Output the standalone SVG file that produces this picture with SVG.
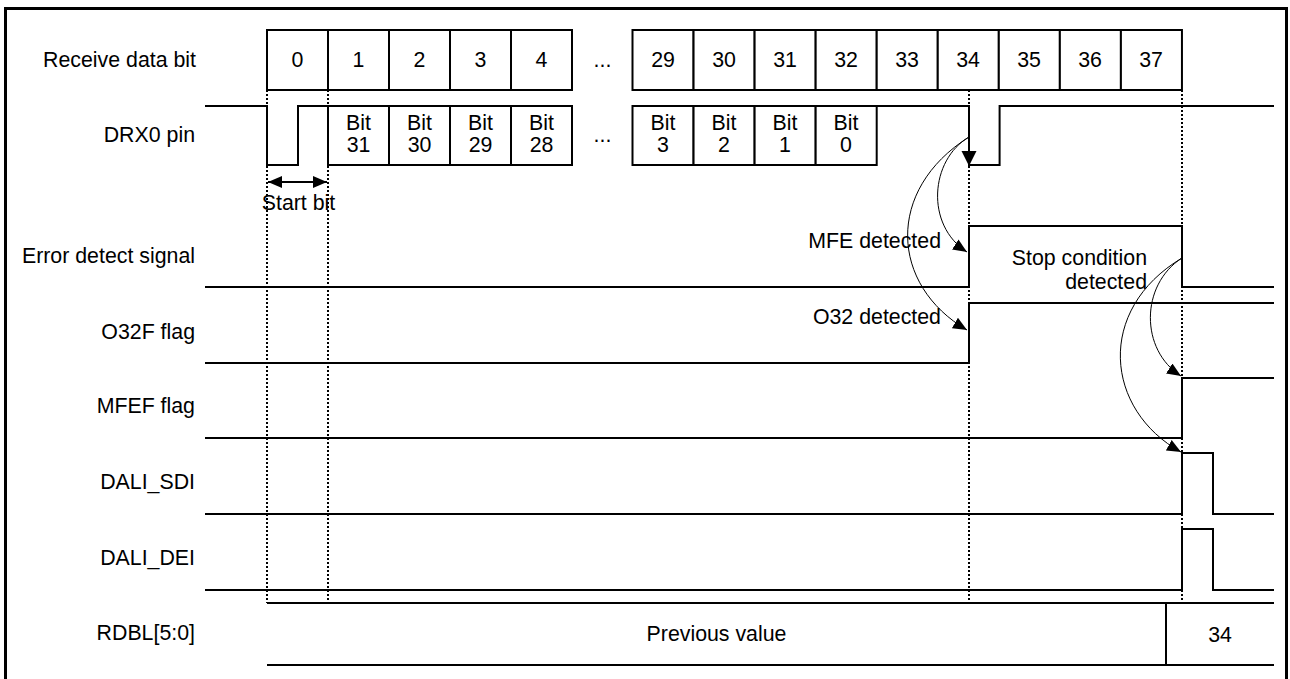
<svg xmlns="http://www.w3.org/2000/svg" width="1290" height="679" viewBox="0 0 1290 679">
<style>
text{font-family:"Liberation Sans",Arial,sans-serif;font-size:21.33px;fill:#000}
.lbl{text-anchor:end}
.c{text-anchor:middle}
.sig{fill:none;stroke:#000;stroke-width:2}
.box{fill:#fff;stroke:#000;stroke-width:2}
.dot{fill:none;stroke:#000;stroke-width:2;stroke-dasharray:2 2}
.cur{fill:none;stroke:#000;stroke-width:1}
</style>
<defs>
<marker id="ah" markerUnits="userSpaceOnUse" markerWidth="15" markerHeight="13" refX="14" refY="6" orient="auto-start-reverse"><path d="M0,0 L14,6 L0,12 z" fill="#000"/></marker>
<marker id="ahb" markerUnits="userSpaceOnUse" markerWidth="16" markerHeight="16" refX="15" refY="7.5" orient="auto"><path d="M0,0 L15,7.5 L0,15 z" fill="#000"/></marker>
</defs>
<rect x="5.5" y="8.5" width="1281" height="700" fill="#fff" stroke="#000" stroke-width="3"/>

<g id="guides">
<line class="dot" x1="267" y1="90" x2="267" y2="603"/>
<line class="dot" x1="328" y1="90" x2="328" y2="603"/>
<line class="dot" x1="969" y1="90" x2="969" y2="603"/>
<line class="dot" x1="1182" y1="90" x2="1182" y2="603"/>
</g>

<g id="receive-data-bit">
<text class="lbl" x="196" y="67">Receive data bit</text>
<rect class="box" x="267" y="30" width="61" height="60"/>
<rect class="box" x="328" y="30" width="61" height="60"/>
<rect class="box" x="389" y="30" width="61" height="60"/>
<rect class="box" x="450" y="30" width="61" height="60"/>
<rect class="box" x="511" y="30" width="61" height="60"/>
<text class="c" x="297.5" y="67">0</text>
<text class="c" x="358.5" y="67">1</text>
<text class="c" x="419.5" y="67">2</text>
<text class="c" x="480.5" y="67">3</text>
<text class="c" x="541.5" y="67">4</text>
<text class="c" x="602.5" y="67">...</text>
<rect class="box" x="632.5" y="30" width="61.05" height="60"/>
<rect class="box" x="693.55" y="30" width="61.05" height="60"/>
<rect class="box" x="754.6" y="30" width="61.05" height="60"/>
<rect class="box" x="815.65" y="30" width="61.05" height="60"/>
<rect class="box" x="876.7" y="30" width="61.05" height="60"/>
<rect class="box" x="937.75" y="30" width="61.05" height="60"/>
<rect class="box" x="998.8" y="30" width="61.05" height="60"/>
<rect class="box" x="1059.85" y="30" width="61.05" height="60"/>
<rect class="box" x="1120.9" y="30" width="61.05" height="60"/>
<text class="c" x="663" y="67">29</text>
<text class="c" x="724" y="67">30</text>
<text class="c" x="785" y="67">31</text>
<text class="c" x="846" y="67">32</text>
<text class="c" x="907" y="67">33</text>
<text class="c" x="968" y="67">34</text>
<text class="c" x="1029" y="67">35</text>
<text class="c" x="1090" y="67">36</text>
<text class="c" x="1151" y="67">37</text>
</g>

<g id="drx0-pin">
<text class="lbl" x="195" y="142">DRX0 pin</text>
<polyline class="sig" points="205,106 267,106 267,165 298,165 298,106 328,106"/>
<rect class="box" x="328" y="106" width="61" height="59"/>
<rect class="box" x="389" y="106" width="61" height="59"/>
<rect class="box" x="450" y="106" width="61" height="59"/>
<rect class="box" x="511" y="106" width="61" height="59"/>
<text class="c" x="358.5" y="130">Bit</text><text class="c" x="358.5" y="152">31</text>
<text class="c" x="419.5" y="130">Bit</text><text class="c" x="419.5" y="152">30</text>
<text class="c" x="480.5" y="130">Bit</text><text class="c" x="480.5" y="152">29</text>
<text class="c" x="541.5" y="130">Bit</text><text class="c" x="541.5" y="152">28</text>
<text class="c" x="602.5" y="142">...</text>
<rect class="box" x="632.5" y="106" width="61.05" height="59"/>
<rect class="box" x="693.55" y="106" width="61.05" height="59"/>
<rect class="box" x="754.6" y="106" width="61.05" height="59"/>
<rect class="box" x="815.65" y="106" width="61.05" height="59"/>
<text class="c" x="663" y="130">Bit</text><text class="c" x="663" y="152">3</text>
<text class="c" x="724" y="130">Bit</text><text class="c" x="724" y="152">2</text>
<text class="c" x="785" y="130">Bit</text><text class="c" x="785" y="152">1</text>
<text class="c" x="846" y="130">Bit</text><text class="c" x="846" y="152">0</text>
<polyline class="sig" points="876.7,106 969,106 969,165 999.6,165 999.6,106 1274,106"/>
</g>

<g id="start-bit">
<line x1="268" y1="182" x2="327" y2="182" stroke="#000" stroke-width="2" marker-start="url(#ah)" marker-end="url(#ah)"/>
<text class="c" x="298.5" y="209.5">Start bit</text>
</g>

<g id="error-detect-signal">
<text class="lbl" x="195" y="263">Error detect signal</text>
<polyline class="sig" points="205,287 969,287 969,226 1182,226 1182,287 1274,287"/>
<text class="lbl" x="941" y="247.5">MFE detected</text>
<text class="lbl" x="1147" y="265">Stop condition</text>
<text class="lbl" x="1147" y="289">detected</text>
</g>

<g id="o32f-flag">
<text class="lbl" x="195" y="339">O32F flag</text>
<polyline class="sig" points="205,363 969,363 969,303 1274,303"/>
<text class="lbl" x="941" y="323.5">O32 detected</text>
</g>

<g id="mfef-flag">
<text class="lbl" x="195" y="413">MFEF flag</text>
<polyline class="sig" points="205,438 1182,438 1182,378 1274,378"/>
</g>

<g id="dali-sdi">
<text class="lbl" x="195" y="489">DALI_SDI</text>
<polyline class="sig" points="205,514 1182,514 1182,453 1213,453 1213,514 1274,514"/>
</g>

<g id="dali-dei">
<text class="lbl" x="195" y="565">DALI_DEI</text>
<polyline class="sig" points="205,590 1182,590 1182,529 1213,529 1213,590 1274,590"/>
</g>

<g id="rdbl">
<text class="lbl" x="195" y="640">RDBL[5:0]</text>
<line class="sig" x1="267" y1="603" x2="1274" y2="603"/>
<line class="sig" x1="267" y1="665" x2="1274" y2="665"/>
<line class="sig" x1="1166" y1="603" x2="1166" y2="665" stroke-width="1.5"/>
<text class="c" x="716.5" y="641">Previous value</text>
<text class="c" x="1220" y="641.5">34</text>
</g>

<g id="connectors">
<line x1="969" y1="106" x2="969" y2="166" stroke="#000" stroke-width="1.5" marker-end="url(#ahb)"/>
<path class="cur" d="M969,137 C930,160 925,225 967,252" marker-end="url(#ah)"/>
<path class="cur" d="M969,137 C885,190 890,285 967,330" marker-end="url(#ah)"/>
<path class="cur" d="M1182,258 C1140,285 1140,350 1181,376" marker-end="url(#ah)"/>
<path class="cur" d="M1182,258 C1095,310 1105,410 1181,452" marker-end="url(#ah)"/>
</g>
</svg>
